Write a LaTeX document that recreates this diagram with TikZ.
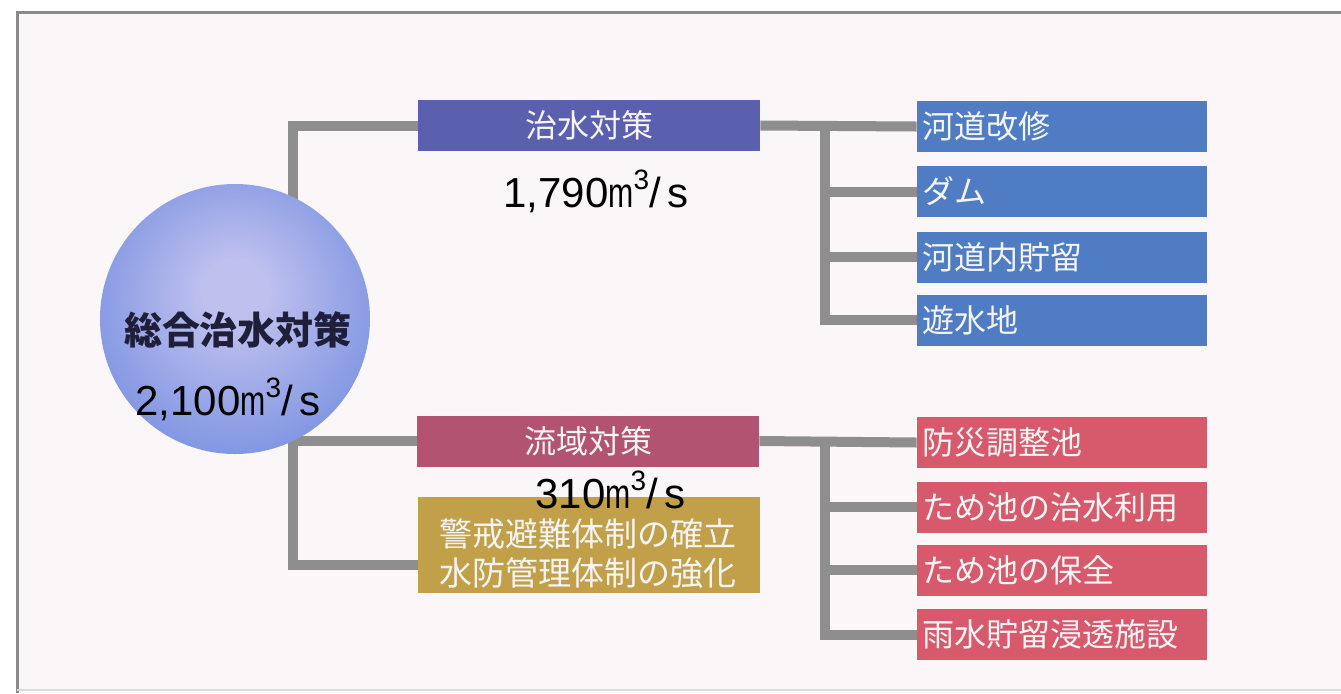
\documentclass[tikz,border=0pt]{standalone}
\usepackage{fontspec}
\setmainfont{Liberation Sans}
\newfontfamily\cjk{Noto Sans CJK JP}
\usetikzlibrary{calc}
\pgfdeclarelayer{bgl}
\pgfdeclarelayer{lines}
\pgfsetlayers{bgl,lines,main}
\definecolor{linegray}{HTML}{8E8E8E}
\definecolor{framegray}{HTML}{8A8A8A}
\definecolor{paper}{HTML}{FBF6F8}
\definecolor{indigo}{HTML}{5A5FAE}
\definecolor{leafblue}{HTML}{4F7CC2}
\definecolor{plum}{HTML}{B25371}
\definecolor{leafpink}{HTML}{D65A6C}
\definecolor{gold}{HTML}{C2A04A}
\definecolor{boxtext}{HTML}{F4F4F4}
\definecolor{cin}{HTML}{BEC0EE}
\definecolor{cmid}{HTML}{8196E2}
\definecolor{cout}{HTML}{4A6ED4}
\definecolor{navy}{HTML}{1F1F3A}
\pgfdeclareradialshading{orb}{\pgfpoint{0bp}{6bp}}{color(0bp)=(cin); color(6bp)=(cin); color(28bp)=(cmid); color(50bp)=(cout)}
\newcommand\cub{\scalebox{0.72}[1]{m}\raisebox{0.42em}{\fontsize{14}{14}\selectfont 3}}
\begin{document}
\begin{tikzpicture}[x=0.5pt,y=-0.5pt,
  conn/.style={draw=linegray, line width=5pt},
  boxbase/.style={rectangle, inner sep=0pt, text=boxtext, font=\cjk\fontsize{16}{16}\selectfont},
  leaf/.style={boxbase, minimum width=145pt, minimum height=25.5pt, text width=140pt, align=left},
  midbox/.style={boxbase, minimum width=171pt, minimum height=25.5pt},
  num/.style={font=\fontsize{21}{21}\selectfont, text=black, inner sep=0pt, anchor=base west},
  orbnode/.style={circle, minimum size=135pt, inner sep=0pt, shading=orb}
]
\useasboundingbox (0,0) rectangle (1341,693);
\begin{pgfonlayer}{bgl}
  \fill[white] (0,0) rectangle (1341,693);
  \fill[paper] (17,12) rectangle (1341,693);
  \draw[framegray, line width=1.5pt] (1341,12) -- (17,12) -- (17,693);
  \draw[black!15, line width=1pt] (17,690) -- (1341,690);
\end{pgfonlayer}

% central orb
\node[orbnode] (c) at (235,319) {};
\node[font=\cjk\bfseries\fontsize{19}{19}\selectfont, text=navy, inner sep=0pt] (ct) at (238,330) {総合治水対策};
\node[num] (cn) at (135,415) {2,100\cub/\,s};

% second level
\node[midbox, fill=indigo] (t1) at (589,125.5) {治水対策};
\node[midbox, fill=plum] (t2) at (588,441) {流域対策};
\node[boxbase, fill=gold, minimum width=171pt, minimum height=48pt] (t3) at (589,545) {};
\node[boxbase, align=left, font=\cjk\fontsize{16.5}{19.5}\selectfont] (t3txt) at (588,554) {警戒避難体制の確立\\水防管理体制の強化};
\node[num] (n1) at (503,207) {1,790\cub/\,s};
\node[num] (n2) at (535,508) {310\cub/\,s};

% leaves
\node[leaf, fill=leafblue] (a1) at (1062,126.5) {河道改修};
\node[leaf, fill=leafblue] (a2) at (1062,191.5) {ダム};
\node[leaf, fill=leafblue] (a3) at (1062,257) {河道内貯留};
\node[leaf, fill=leafblue] (a4) at (1062,320) {遊水地};
\node[leaf, fill=leafpink] (b1) at (1062,442.5) {防災調整池};
\node[leaf, fill=leafpink] (b2) at (1062,507) {ため池の治水利用};
\node[leaf, fill=leafpink] (b3) at (1062,570) {ため池の保全};
\node[leaf, fill=leafpink] (b4) at (1062,634.5) {雨水貯留浸透施設};

\coordinate (lx) at (293,0);
\coordinate (ra) at (825,126);
\coordinate (rb) at (825,442);
\begin{pgfonlayer}{lines}
  \draw[conn] (t1.west) -| (lx |- c.center);
  \draw[conn] (t2.west) -| (lx |- c.center);
  \draw[conn] (lx |- t2.west) |- ($(t3.south west)+(0,-28)$);
  \draw[conn] (t1.east) -- (a1.west);
  \draw[conn] (t2.east) -- (b1.west);
  \foreach \i in {2,3,4} {
    \draw[conn] (ra) |- (a\i.west);
    \draw[conn] (rb) |- (b\i.west);
  }
\end{pgfonlayer}
\end{tikzpicture}
\end{document}
